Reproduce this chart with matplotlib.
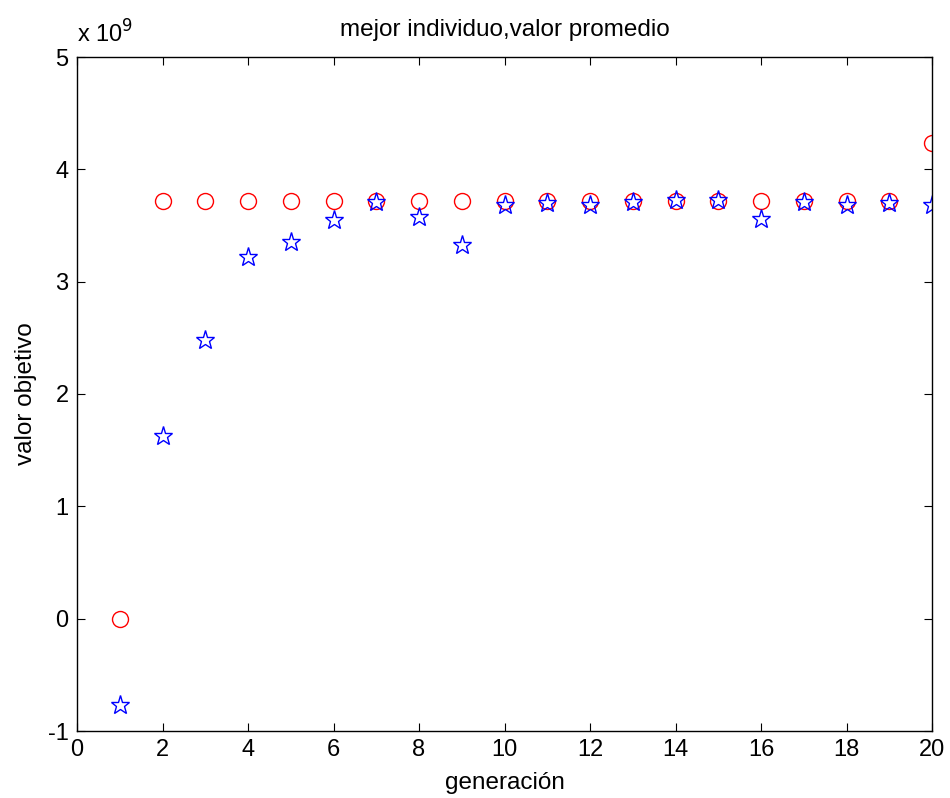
import matplotlib
matplotlib.use("Agg")
import matplotlib.pyplot as plt
from matplotlib.ticker import FuncFormatter

plt.rcParams['font.family'] = ['Liberation Sans', 'DejaVu Sans']

generacion = list(range(1, 21))
mejor = [0.0, 3.72e9, 3.72e9, 3.72e9, 3.72e9, 3.72e9, 3.72e9, 3.72e9, 3.72e9, 3.72e9,
         3.72e9, 3.72e9, 3.72e9, 3.72e9, 3.72e9, 3.72e9, 3.72e9, 3.72e9, 3.72e9, 4.23e9]
promedio = [-0.77e9, 1.63e9, 2.48e9, 3.22e9, 3.35e9, 3.55e9, 3.71e9, 3.58e9, 3.33e9, 3.68e9,
            3.70e9, 3.68e9, 3.71e9, 3.73e9, 3.73e9, 3.56e9, 3.71e9, 3.68e9, 3.70e9, 3.68e9]
xticks = [0, 2, 4, 6, 8, 10, 12, 14, 16, 18, 20]
yticks = [-1e9, 0, 1e9, 2e9, 3e9, 4e9, 5e9]

fig = plt.figure(figsize=(9.5, 7.98), dpi=100)
ax = fig.add_axes([77/950, 67/798, 855/950, 674/798])

ax.plot(generacion, mejor, linestyle='none', marker='o', markersize=11.5,
        markerfacecolor='none', markeredgecolor='#ff0000', markeredgewidth=1.0)
ax.plot(generacion, promedio, linestyle='none', marker='*', markersize=14,
        markerfacecolor='none', markeredgecolor='#0000ff', markeredgewidth=1.0)

ax.set_xlim(0, 20)
ax.set_ylim(-1e9, 5e9)
ax.set_xticks(xticks)
ax.set_yticks(yticks)
ax.yaxis.set_major_formatter(FuncFormatter(lambda v, p: f"{v/1e9:g}"))
ax.tick_params(direction='in', top=True, right=True, length=6, width=0.8,
               labelsize=17, pad=6)
for s in ax.spines.values():
    s.set_linewidth(1.0)

ax.set_title('mejor individuo,valor promedio', fontsize=17.5, pad=15)
ax.set_xlabel('generación', fontsize=17.5, labelpad=8)
ax.set_ylabel('valor objetivo', fontsize=17.5, labelpad=8)
ax.text(0.0, 1.014, 'x 10$^{9}$', transform=ax.transAxes, fontsize=17,
        ha='left', va='bottom')

fig.savefig('out.png', dpi=100)
